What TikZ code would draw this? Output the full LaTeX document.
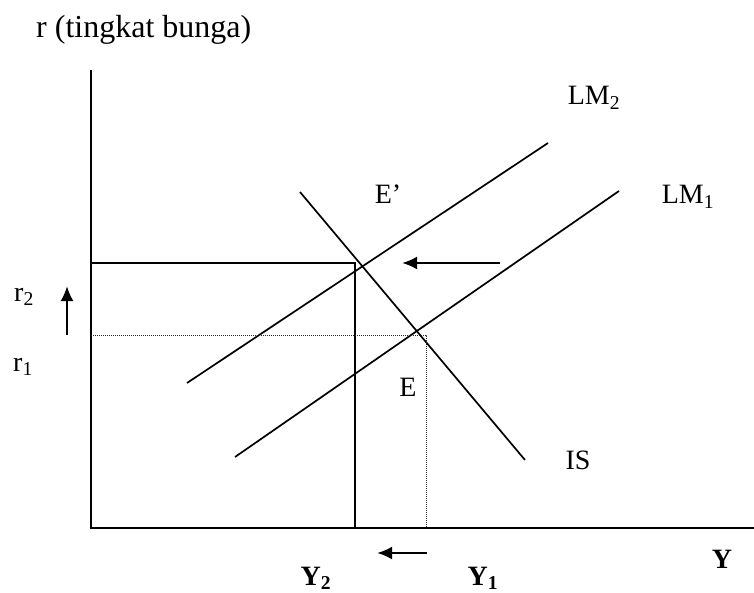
\documentclass[tikz,border=0pt]{standalone}
\usepackage{fontspec}
\setmainfont{Liberation Serif}
\usetikzlibrary{arrows.meta}
\tikzset{
  axis/.style    ={line width=1.8pt},
  curve/.style   ={line width=1.7pt},
  guide/.style   ={line width=1.8pt},
  guidedot/.style={densely dotted, line width=1pt, black!85},
  mvarrow/.style ={-{Latex[length=15pt,width=13pt]}, line width=2.4pt},
  lbl/.style     ={font=\fontsize{28}{30}\selectfont, inner sep=0pt},
  ylbl/.style    ={font=\fontsize{28}{30}\selectfont\bfseries, inner sep=0pt, anchor=base},
}

\begin{document}
\begin{tikzpicture}[x=1pt,y=-1pt]
    \useasboundingbox (0,0) rectangle (754,593);
    % --- axes ---
    \coordinate (o) at (91,528);
    \coordinate (ytop) at (91,70);
    \coordinate (xend) at (754,528);
    \draw[axis] (ytop) -- (o) -- (xend);
    % --- IS and the two LM curves ---
    \coordinate (isA) at (300,192); \coordinate (isB) at (525,460);
    \coordinate (lmoA) at (235,457); \coordinate (lmoB) at (619,191);
    \coordinate (lmtA) at (187,383); \coordinate (lmtB) at (548,143);
    \draw[curve] (isA) -- (isB);
    \draw[curve] (lmoA) -- (lmoB);
    \draw[curve] (lmtA) -- (lmtB);
    % --- old and new equilibrium guides ---
    \coordinate (rtwo) at (91,263); \coordinate (etwo) at (355,263); \coordinate (ytwo) at (355,528);
    \coordinate (rone) at (91,335); \coordinate (eone) at (426,335); \coordinate (yone) at (426,528);
    \draw[guide] (rtwo) -- (etwo) -- (ytwo);
    \draw[guidedot] (rone) -- (eone) -- (yone);
    % --- shift arrows ---
    \coordinate (lmS) at (500,263); \coordinate (lmT) at (402,263);
    \coordinate (rS) at (67,335);   \coordinate (rT) at (67,286);
    \coordinate (yS) at (427,553);  \coordinate (yT) at (377,553);
    \draw[mvarrow] (lmS) -- (lmT);
    \draw[mvarrow] (rS) -- (rT);
    \draw[mvarrow] (yS) -- (yT);
    % --- labels ---
    \node[lbl,font=\fontsize{32}{34}\selectfont,anchor=west] (title) at (36,30) {r (tingkat bunga)};
    \node[lbl] (lmtwo) at (594,98) {LM\textsubscript{2}};
    \node[lbl] (lmone) at (688,197) {LM\textsubscript{1}};
    \node[lbl] (eprime) at (388,194) {E'};
    \node[lbl] (e) at (408,387) {E};
    \node[lbl] (is) at (578,460) {IS};
    \node[lbl] (rtwolbl) at (24,297) {r\textsubscript{2}};
    \node[lbl] (ronelbl) at (23,367) {r\textsubscript{1}};
    \node[ylbl] (ylbl) at (722,568) {Y};
    \node[ylbl] (ytwolbl) at (316,585) {Y\textsubscript{2}};
    \node[ylbl] (yonelbl) at (483,585) {Y\textsubscript{1}};
\end{tikzpicture}
\end{document}
